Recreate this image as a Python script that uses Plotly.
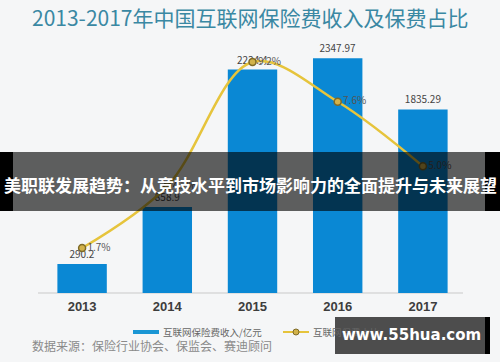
import plotly.graph_objects as go

years = ["2013", "2014", "2015", "2016", "2017"]
premium = [290.2, 858.9, 2234.4, 2347.97, 1835.29]   # 互联网保险费收入/亿元
share = [1.7, 4.2, 9.2, 7.6, 5.0]                    # 互联网保费占比 %

title_text = "2013-2017年中国互联网保险费收入及保费占比"
banner_text = "美职联发展趋势：从竞技水平到市场影响力的全面提升与未来展望"
legend_bar = "互联网保险费收入/亿元"
legend_line = "互联网保费占比"
source_text = "数据来源：保险行业协会、保监会、赛迪顾问"
watermark = "www.55hua.com"

W, H = 500, 362
def px(x):
    return x / W
def py(y):
    return 1 - y / H

CJK = "Noto Sans CJK SC"

fig = go.Figure()
fig.add_trace(go.Bar(
    x=years, y=premium,
    text=[f"{v:g}" for v in premium],
    textposition="outside",
    textfont=dict(size=10, color="#444444", family=CJK),
    cliponaxis=False,
    marker=dict(color="#0a88d4", line=dict(width=0)),
    showlegend=False,
))
fig.add_trace(go.Scatter(
    x=years, y=share, yaxis="y2",
    mode="lines+markers+text",
    line=dict(color="#e6c43c", width=2.5, shape="spline", smoothing=1.0),
    marker=dict(size=7, color="#d2b24a", line=dict(color="#7d6a28", width=1.5)),
    text=[f"{v:.1f}%" for v in share],
    textposition="middle right",
    textfont=dict(size=10, color="#555555", family=CJK),
    cliponaxis=False,
    showlegend=False,
))

shapes = [
    # x axis line
    dict(type="line", xref="paper", yref="paper", x0=px(38), x1=px(463), y0=py(293), y1=py(293),
         line=dict(color="#c9c9c9", width=1), layer="below"),
    # legend bar swatch
    dict(type="rect", xref="paper", yref="paper", x0=px(133), x1=px(159), y0=py(334), y1=py(330),
         fillcolor="#1a96d4", line=dict(width=0)),
    # legend line swatch
    dict(type="line", xref="paper", yref="paper", x0=px(283), x1=px(309), y0=py(332), y1=py(332),
         line=dict(color="#e6c43c", width=2)),
    dict(type="circle", xref="paper", yref="paper", x0=px(293), x1=px(299), y0=py(335), y1=py(329),
         fillcolor="#d2b24a", line=dict(color="#7d6a28", width=1)),
    # banner
    dict(type="rect", xref="paper", yref="paper", x0=px(13), x1=px(485), y0=py(211), y1=py(152),
         fillcolor="rgba(0,0,0,0.62)", line=dict(width=0), layer="above"),
    dict(type="rect", xref="paper", yref="paper", x0=0, x1=px(13), y0=py(211), y1=py(152),
         fillcolor="#000000", line=dict(width=0), layer="above"),
    dict(type="rect", xref="paper", yref="paper", x0=px(485), x1=1, y0=py(211), y1=py(152),
         fillcolor="#000000", line=dict(width=0), layer="above"),
    # watermark box
    dict(type="rect", xref="paper", yref="paper", x0=px(335), x1=px(485), y0=py(354), y1=py(317),
         fillcolor="#4d4d4d", line=dict(width=0), layer="above"),
    dict(type="rect", xref="paper", yref="paper", x0=px(485), x1=px(490), y0=py(354), y1=py(317),
         fillcolor="#000000", line=dict(width=0), layer="above"),
]

annotations = [
    dict(text=title_text, x=0.5, y=py(17), xref="paper", yref="paper", showarrow=False,
         font=dict(size=21, color="#3a88a3", family=CJK), xanchor="center", yanchor="middle"),
    dict(text=legend_bar, x=px(161), y=py(332), xref="paper", yref="paper", showarrow=False,
         font=dict(size=9.5, color="#666666", family=CJK), xanchor="left", yanchor="middle"),
    dict(text=legend_line, x=px(311), y=py(332), xref="paper", yref="paper", showarrow=False,
         font=dict(size=9.5, color="#666666", family=CJK), xanchor="left", yanchor="middle"),
    dict(text=source_text, x=px(30), y=py(345), xref="paper", yref="paper", showarrow=False,
         font=dict(size=12, color="#8a8a8a", family=CJK), xanchor="left", yanchor="middle"),
    dict(text="<b>" + banner_text + "</b>", x=0.5, y=py(184), xref="paper", yref="paper", showarrow=False,
         font=dict(size=17, color="#ffffff", family=CJK), xanchor="center", yanchor="middle"),
    dict(text="<b>" + watermark + "</b>", x=px(411), y=py(335), xref="paper", yref="paper", showarrow=False,
         font=dict(size=15, color="#ffffff", family="DejaVu Sans"), xanchor="center", yanchor="middle"),
]

fig.update_layout(
    width=W, height=H, autosize=False,
    margin=dict(l=0, r=0, t=0, b=0),
    paper_bgcolor="#f5f6f7", plot_bgcolor="#f5f6f7",
    bargap=0.42,
    xaxis=dict(domain=[px(39.5), px(465.5)], showgrid=False, zeroline=False, showline=False,
               ticks="", tickfont=dict(size=13, color="#3d3d3d", family="Liberation Sans"),
               tickprefix="<b>", ticksuffix="</b>", ticklabelstandoff=4),
    yaxis=dict(domain=[py(293), py(43)], range=[0, 2500], visible=False, showgrid=False, zeroline=False),
    yaxis2=dict(overlaying="y", range=[-0.113, 9.968], visible=False, showgrid=False, zeroline=False),
    shapes=shapes,
    annotations=annotations,
    showlegend=False,
)

fig.write_html("out.html", config={"displayModeBar": False},
               post_script="document.body.style.margin='0';document.body.style.background='#f5f6f7';")
